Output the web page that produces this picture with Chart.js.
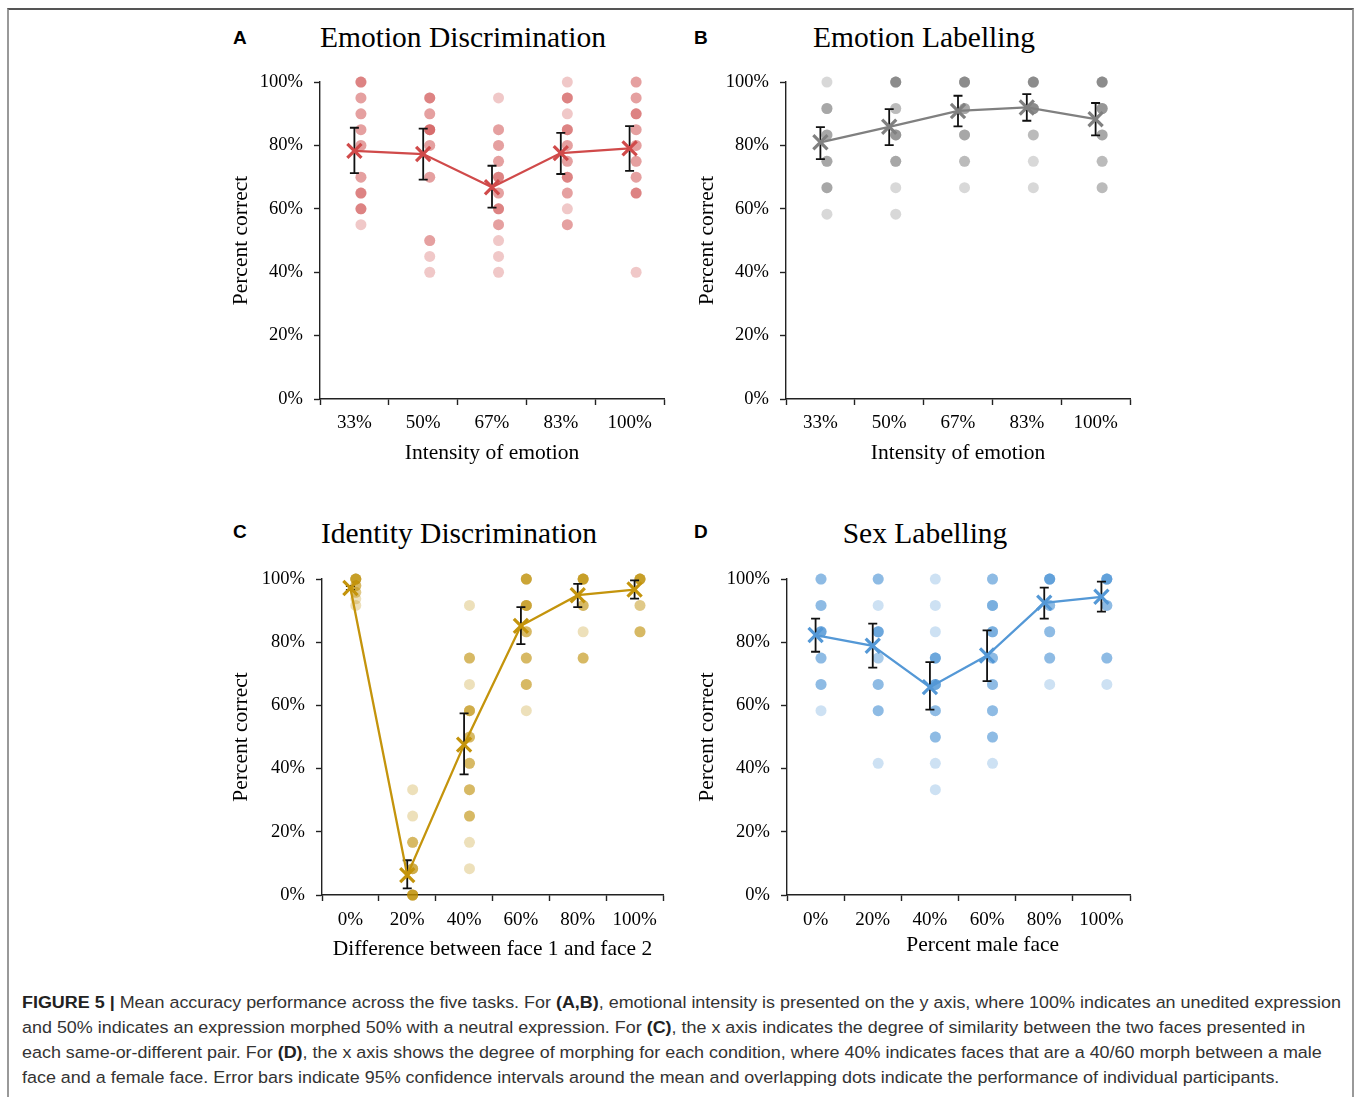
<!DOCTYPE html>
<html>
<head>
<meta charset="utf-8">
<script src="https://cdn.jsdelivr.net/npm/chart.js@4.4.1/dist/chart.umd.min.js"></script>
<style>
  html, body { margin: 0; padding: 0; background: #fff; }
  body { width: 1357px; height: 1097px; position: relative; overflow: hidden; }
  #frame { position: absolute; left: 7px; top: 8px; width: 1347px; height: 1110px; box-sizing: border-box;
           border-top: 2px solid #555; border-left: 2px solid #999; border-right: 2px solid #999; }
  canvas { position: absolute; }
  .ptitle { position: absolute; font-family: 'Liberation Serif', 'Times New Roman', serif; font-size: 29.5px;
            line-height: 29.5px; color: #000; white-space: nowrap; transform: translateX(-50%); }
  .letter { position: absolute; font-family: 'Liberation Sans', Arial, sans-serif; font-weight: bold; font-size: 19px;
            line-height: 19px; color: #000; }
  #caption { position: absolute; left: 22px; top: 990px; font-family: 'Liberation Sans', Arial, sans-serif;
             font-size: 16.8px; line-height: 25px; color: #333; white-space: nowrap; transform-origin: 0 0; }
  #caption div { display: block; }
  #caption span.ln { display: inline-block; }
  #caption b { font-weight: bold; color: #222; }
</style>
</head>
<body>
<div id="frame"></div>

<div class="letter" style="left:233px;top:28px;">A</div>
<div class="letter" style="left:694px;top:28px;">B</div>
<div class="letter" style="left:233px;top:522px;">C</div>
<div class="letter" style="left:694px;top:522px;">D</div>

<div class="ptitle" style="left:463px;top:23px;">Emotion Discrimination</div>
<div class="ptitle" style="left:924px;top:23px;">Emotion Labelling</div>
<div class="ptitle" style="left:459px;top:519px;">Identity Discrimination</div>
<div class="ptitle" style="left:925px;top:519px;">Sex Labelling</div>

<canvas id="cA" width="470" height="420" style="left:215px;top:60px;"></canvas>
<canvas id="cB" width="470" height="420" style="left:681px;top:60px;"></canvas>
<canvas id="cC" width="470" height="420" style="left:215px;top:557px;"></canvas>
<canvas id="cD" width="470" height="420" style="left:681px;top:557px;"></canvas>

<div id="caption">
  <div><span class="ln" id="capLine1"><b>FIGURE 5 |</b> Mean accuracy performance across the five tasks. For <b>(A,B)</b>, emotional intensity is presented on the y axis, where 100% indicates an unedited expression</span></div>
  <div><span class="ln">and 50% indicates an expression morphed 50% with a neutral expression. For <b>(C)</b>, the x axis indicates the degree of similarity between the two faces presented in</span></div>
  <div><span class="ln">each same-or-different pair. For <b>(D)</b>, the x axis shows the degree of morphing for each condition, where 40% indicates faces that are a 40/60 morph between a male</span></div>
  <div><span class="ln">face and a female face. Error bars indicate 95% confidence intervals around the mean and overlapping dots indicate the performance of individual participants.</span></div>
</div>

<script>
// ---------------- DATA ----------------
const yTickValues = [0, 20, 40, 60, 80, 100];
const emotionCategories = ['33%', '50%', '67%', '83%', '100%'];
const morphCategories = ['0%', '20%', '40%', '60%', '80%', '100%'];

// A: Emotion Discrimination
const aMean = [78.3, 77.3, 66.8, 77.6, 79.1];
const aLow  = [71.3, 69.2, 60.4, 71.0, 72.0];
const aHigh = [85.6, 85.3, 73.6, 84.0, 86.1];
const aDotValues = [
  [100, 95, 90, 85, 80, 70, 65, 60, 55],
  [95, 90, 85, 80, 70, 50, 45, 40],
  [95, 85, 80, 75, 70, 65, 60, 55, 50, 45, 40],
  [100, 95, 90, 85, 80, 75, 70, 65, 60, 55],
  [100, 95, 90, 85, 80, 75, 70, 65, 40]
];
const aDotCounts = [
  [3, 2, 2, 2, 2, 2, 3, 3, 1],
  [3, 2, 4, 2, 2, 2, 1, 1],
  [1, 2, 2, 2, 3, 2, 3, 2, 1, 1, 1],
  [1, 3, 1, 3, 2, 2, 3, 2, 1, 2],
  [2, 2, 3, 2, 2, 2, 2, 3, 1]
];

// B: Emotion Labelling
const bMean = [81.0, 85.9, 90.9, 92.0, 88.3];
const bLow  = [75.7, 80.1, 86.0, 87.8, 83.2];
const bHigh = [85.8, 91.5, 95.7, 96.2, 93.4];
const bDotValues = [
  [100, 91.67, 83.33, 75, 66.67, 58.33],
  [100, 91.67, 83.33, 75, 66.67, 58.33],
  [100, 91.67, 83.33, 75, 66.67],
  [100, 91.67, 83.33, 75, 66.67],
  [100, 91.67, 83.33, 75, 66.67]
];
const bDotCounts = [
  [1, 3, 3, 3, 3, 1],
  [5, 2, 4, 3, 1, 1],
  [5, 3, 3, 2, 1],
  [5, 5, 2, 1, 1],
  [5, 4, 3, 2, 2]
];

// C: Identity Discrimination
const cMean = [97.2, 6.3, 47.6, 85.2, 94.9, 96.7];
const cLow  = [96.6, 2.1, 38.2, 79.4, 91.1, 93.8];
const cHigh = [97.8, 11.0, 57.5, 91.1, 98.5, 99.6];
const cDotValues = [
  [100, 97.92, 95.83, 93.75, 91.67],
  [33.33, 25, 16.67, 8.33, 0],
  [91.67, 75, 66.67, 58.33, 50, 41.67, 33.33, 25, 16.67, 8.33],
  [100, 91.67, 83.33, 75, 66.67, 58.33],
  [100, 91.67, 83.33, 75],
  [100, 91.67, 83.33]
];
const cDotCounts = [
  [6, 3, 2, 1, 1],
  [1, 1, 3, 4, 6],
  [1, 3, 1, 4, 3, 3, 3, 3, 1, 1],
  [5, 5, 3, 3, 3, 1],
  [6, 3, 1, 3],
  [6, 2, 3]
];

// D: Sex Labelling
const dMean = [82.3, 78.9, 65.8, 75.8, 92.5, 94.4];
const dLow  = [77.0, 72.0, 58.7, 67.7, 87.5, 89.7];
const dHigh = [87.5, 85.9, 73.7, 83.8, 97.3, 99.2];
const dDotValues = [
  [100, 91.67, 83.33, 75, 66.67, 58.33],
  [100, 91.67, 83.33, 75, 66.67, 58.33, 41.67],
  [100, 91.67, 83.33, 75, 66.67, 58.33, 50, 41.67, 33.33],
  [100, 91.67, 83.33, 75, 66.67, 58.33, 50, 41.67],
  [100, 91.67, 83.33, 75, 66.67],
  [100, 91.67, 75, 66.67]
];
const dDotCounts = [
  [3, 3, 5, 3, 3, 1],
  [3, 1, 5, 2, 3, 3, 1],
  [1, 1, 1, 5, 5, 3, 3, 1, 1],
  [3, 4, 4, 3, 3, 3, 3, 1],
  [6, 3, 3, 3, 1],
  [6, 3, 3, 1]
];

// ---------------- STYLE ----------------
const SERIF = "'Liberation Serif', 'Times New Roman', serif";
const DOT_SHIFT = 0.095;

const errorBarPlugin = {
  id: 'errorBars',
  afterDatasetDraw(chart, args) {
    if (args.index !== 1) return;
    const ds = chart.data.datasets[0];
    const {ctx} = chart;
    const xs = chart.scales.x, ys = chart.scales.y;
    ctx.save();
    ctx.strokeStyle = '#111';
    ctx.lineWidth = 1.8;
    ds.data.forEach((p, i) => {
      const px = xs.getPixelForValue(p.x);
      const yl = ys.getPixelForValue(ds.errLow[i]);
      const yh = ys.getPixelForValue(ds.errHigh[i]);
      ctx.beginPath();
      ctx.moveTo(px, yl); ctx.lineTo(px, yh);
      ctx.moveTo(px - 4.5, yl); ctx.lineTo(px + 4.5, yl);
      ctx.moveTo(px - 4.5, yh); ctx.lineTo(px + 4.5, yh);
      ctx.stroke();
    });
    ctx.restore();
  }
};

function makePanel(id, cfg) {
  const n = cfg.categories.length;
  const dotPts = [];
  cfg.dotValues.forEach((vals, i) => {
    vals.forEach((v, j) => {
      for (let k = 0; k < cfg.dotCounts[i][j]; k++) dotPts.push({x: i + 0.5 + DOT_SHIFT, y: v});
    });
  });
  const meanPts = cfg.means.map((m, i) => ({x: i + 0.5, y: m}));
  new Chart(document.getElementById(id), {
    type: 'scatter',
    data: {
      datasets: [
        {
          type: 'line', data: meanPts, order: 1,
          errLow: cfg.low, errHigh: cfg.high,
          borderColor: cfg.line, borderWidth: 2.3, tension: 0, fill: false, showLine: true,
          pointStyle: 'crossRot', pointRadius: 10, pointBorderWidth: 3.2,
          pointBorderColor: cfg.line, pointBackgroundColor: cfg.line, clip: false
        },
        {
          type: 'scatter', data: dotPts, order: 2, showLine: false,
          pointRadius: 5.5, pointBorderWidth: 0, pointBackgroundColor: cfg.dot,
          borderColor: 'rgba(0,0,0,0)', clip: false
        }
      ]
    },
    options: {
      responsive: false, animation: false, devicePixelRatio: 1, events: [],
      layout: { padding: { left: 10, right: cfg.padRight, top: 20, bottom: 5 } },
      plugins: { legend: { display: false }, tooltip: { enabled: false }, title: { display: false } },
      scales: {
        x: {
          type: 'linear', min: 0, max: n,
          afterBuildTicks: s => { s.ticks = []; for (let v = 0; v <= 2 * n; v++) s.ticks.push({value: v / 2}); },
          afterFit: s => { s.height = cfg.xAxisHeight; },
          ticks: {
            autoSkip: false, maxRotation: 0, minRotation: 0, padding: cfg.xTickPad, color: '#000',
            font: { family: SERIF, size: 19 },
            callback: v => (Math.round(v * 2) % 2 === 1) ? cfg.categories[Math.floor(v)] : ''
          },
          grid: {
            drawOnChartArea: false, drawTicks: true, tickLength: 6, tickWidth: 1.4,
            color: 'rgba(0,0,0,0)',
            tickColor: c => (c.tick && Math.round(c.tick.value * 2) % 2 === 0) ? '#222' : 'rgba(0,0,0,0)'
          },
          border: { display: true, color: '#222', width: 1.4 },
          title: { display: true, text: cfg.xTitle, color: '#000', font: { family: SERIF, size: 21.5 },
                   padding: { top: 0, bottom: cfg.xTitlePad } }
        },
        y: {
          type: 'linear', min: 0, max: 100,
          afterBuildTicks: s => { s.ticks = yTickValues.map(v => ({value: v})); },
          afterFit: s => { s.width = cfg.yAxisWidth; },
          ticks: { padding: 11, color: '#000', font: { family: SERIF, size: 18.5 }, callback: v => v + '%' },
          grid: { drawOnChartArea: false, drawTicks: true, tickLength: 6, tickWidth: 1.4, color: '#222', tickColor: '#222' },
          border: { display: true, color: '#222', width: 1.4 },
          title: { display: true, text: 'Percent correct', color: '#000', font: { family: SERIF, size: 21.5 },
                   padding: { top: 3, bottom: 0 } }
        }
      }
    },
    plugins: [errorBarPlugin]
  });
}

makePanel('cA', {
  categories: emotionCategories, means: aMean, low: aLow, high: aHigh,
  dotValues: aDotValues, dotCounts: aDotCounts,
  line: 'rgb(208,74,74)', dot: 'rgba(200,50,50,0.27)',
  xTitle: 'Intensity of emotion', padRight: 21, yAxisWidth: 95, xAxisHeight: 76, xTitlePad: 9, xTickPad: 7
});
makePanel('cB', {
  categories: emotionCategories, means: bMean, low: bLow, high: bHigh,
  dotValues: bDotValues, dotCounts: bDotCounts,
  line: 'rgb(128,128,128)', dot: 'rgba(110,110,110,0.27)',
  xTitle: 'Intensity of emotion', padRight: 21, yAxisWidth: 95, xAxisHeight: 76, xTitlePad: 9, xTickPad: 7
});
makePanel('cC', {
  categories: morphCategories, means: cMean, low: cLow, high: cHigh,
  dotValues: cDotValues, dotCounts: cDotCounts,
  line: 'rgb(196,148,12)', dot: 'rgba(190,140,0,0.27)',
  xTitle: 'Difference between face 1 and face 2', padRight: 22, yAxisWidth: 97, xAxisHeight: 77, xTitlePad: 10, xTickPad: 8
});
makePanel('cD', {
  categories: morphCategories, means: dMean, low: dLow, high: dHigh,
  dotValues: dDotValues, dotCounts: dDotCounts,
  line: 'rgb(84,152,214)', dot: 'rgba(70,145,210,0.27)',
  xTitle: '\u2002\u2002\u2002\u2002 Percent male face', padRight: 21, yAxisWidth: 96, xAxisHeight: 77, xTitlePad: 14, xTickPad: 8
});

// fit caption width to the original line length
(function () {
  const cap = document.getElementById('caption');
  const w = document.getElementById('capLine1').getBoundingClientRect().width;
  const target = 1319;
  if (w > 0) cap.style.transform = 'scaleX(' + (target / w) + ')';
})();
</script>
</body>
</html>
